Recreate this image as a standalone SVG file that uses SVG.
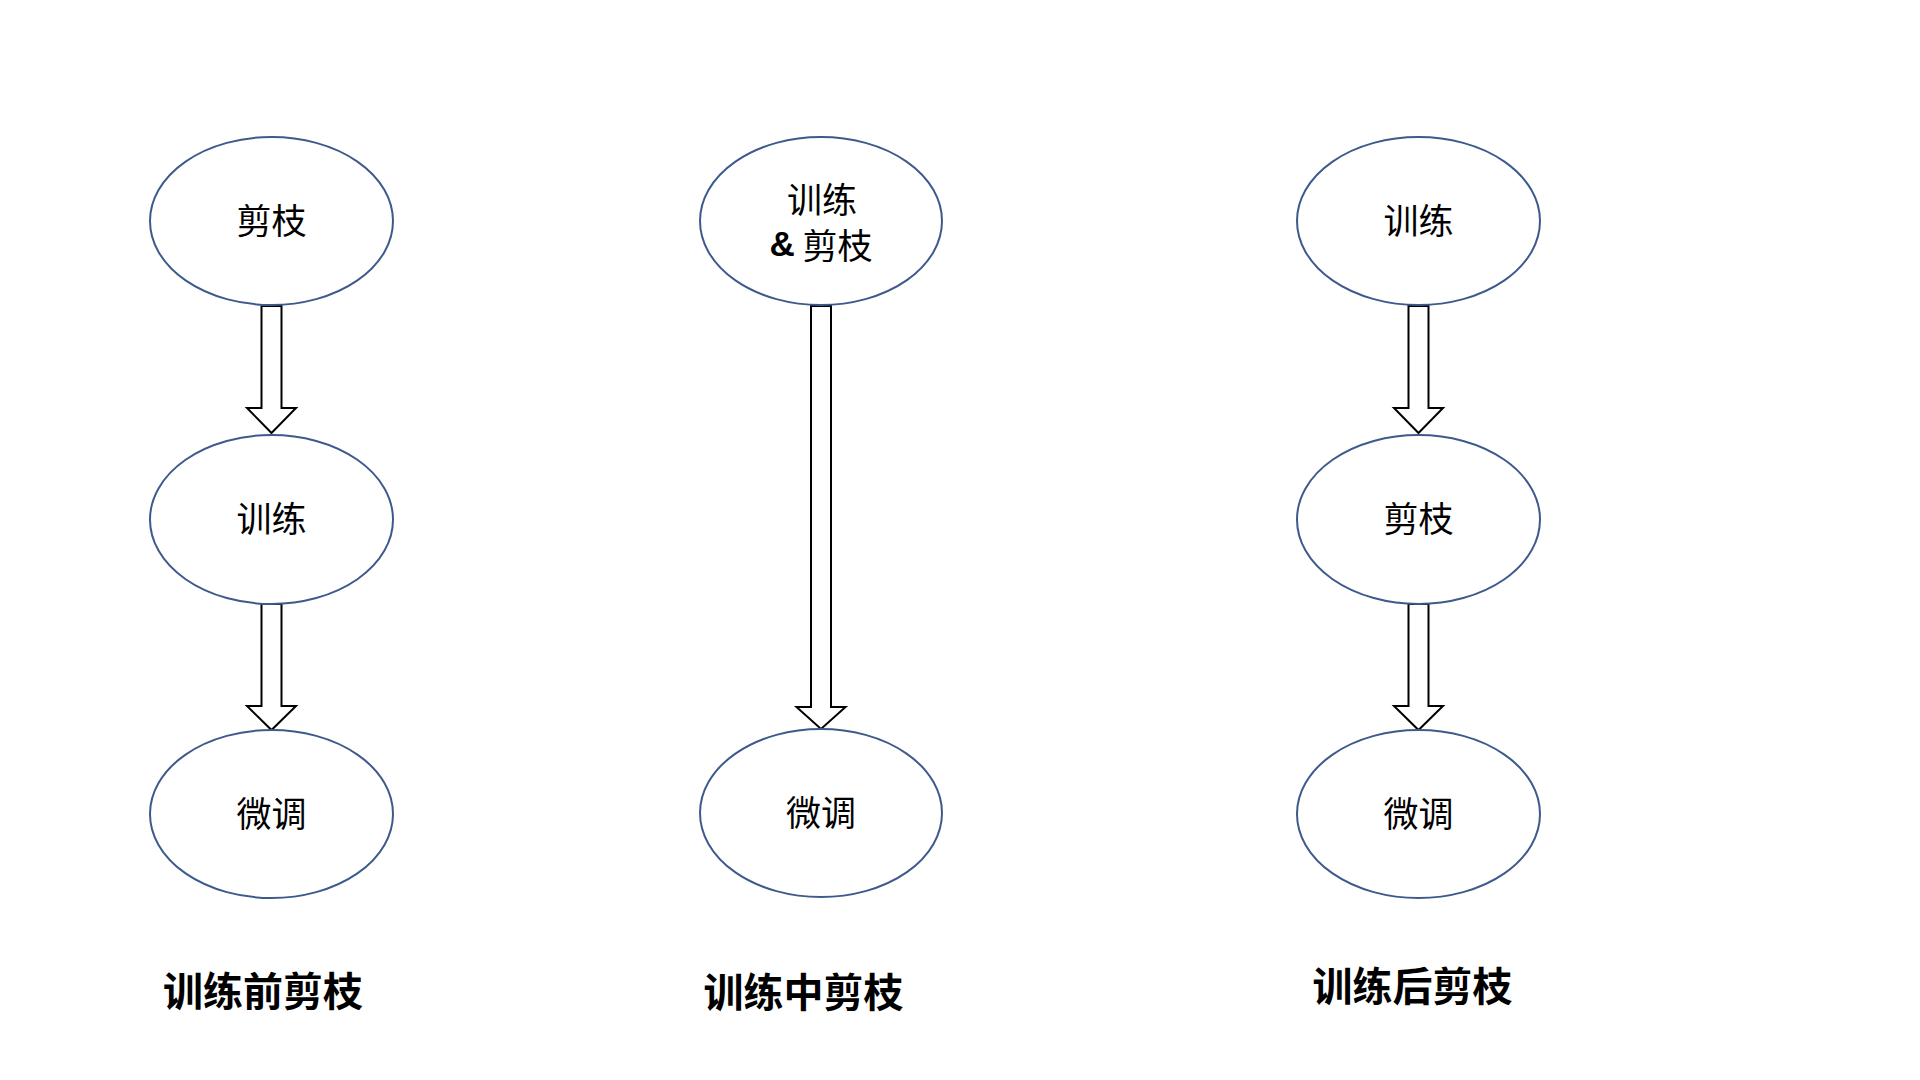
<svg xmlns="http://www.w3.org/2000/svg" width="1920" height="1080" viewBox="0 0 1920 1080">
<style>
.node ellipse{fill:#fff;stroke:#3e5a8c;stroke-width:2}
.node text{font-family:"Noto Sans CJK SC","Liberation Sans",sans-serif;font-size:35px;fill:#000;text-anchor:middle;dominant-baseline:central}
.amp{font-family:"Liberation Sans","Noto Sans CJK SC",sans-serif;font-weight:bold}
.arrow{fill:#fff;stroke:#000;stroke-width:2;stroke-linejoin:miter}
.title{font-family:"Noto Sans CJK SC","Liberation Sans",sans-serif;font-size:40px;font-weight:bold;fill:#000;text-anchor:middle;dominant-baseline:central}
</style>
<rect width="1920" height="1080" fill="#fff"/>
<g id="connectors">
<polygon class="arrow" points="261.5,306 281.5,306 281.5,408 296,408 271.5,433 247,408 261.5,408"/>
<polygon class="arrow" points="261.5,604 281.5,604 281.5,706 296,706 271.5,730 247,706 261.5,706"/>
<polygon class="arrow" points="811,306 831,306 831,707 845.5,707 821,729 796.5,707 811,707"/>
<polygon class="arrow" points="1408.5,306 1428.5,306 1428.5,408 1443,408 1418.5,433 1394,408 1408.5,408"/>
<polygon class="arrow" points="1408.5,604 1428.5,604 1428.5,706 1443,706 1418.5,730 1394,706 1408.5,706"/>
</g>
<g id="n-left-prune" class="node"><ellipse cx="271.5" cy="221" rx="121.5" ry="84"/><text x="271.5" y="218">剪枝</text></g>
<g id="n-left-train" class="node"><ellipse cx="271.5" cy="519.5" rx="121.5" ry="84.5"/><text x="271.5" y="516.5">训练</text></g>
<g id="n-left-finetune" class="node"><ellipse cx="271.5" cy="814" rx="121.5" ry="84"/><text x="271.5" y="811">微调</text></g>
<g id="n-mid-trainprune" class="node"><ellipse cx="821" cy="221" rx="121" ry="84"/><text x="822" y="197">训练</text><text x="821" y="243"><tspan class="amp">&amp;</tspan> 剪枝</text></g>
<g id="n-mid-finetune" class="node"><ellipse cx="821" cy="813" rx="121" ry="84"/><text x="821" y="810">微调</text></g>
<g id="n-right-train" class="node"><ellipse cx="1418.5" cy="221" rx="121.5" ry="84"/><text x="1418.5" y="218">训练</text></g>
<g id="n-right-prune" class="node"><ellipse cx="1418.5" cy="519.5" rx="121.5" ry="84.5"/><text x="1418.5" y="516.5">剪枝</text></g>
<g id="n-right-finetune" class="node"><ellipse cx="1418.5" cy="814" rx="121.5" ry="84"/><text x="1418.5" y="811">微调</text></g>
<g id="titles">
<text class="title" x="263" y="989">训练前剪枝</text>
<text class="title" x="803.5" y="990">训练中剪枝</text>
<text class="title" x="1412.5" y="984">训练后剪枝</text>
</g>
</svg>
